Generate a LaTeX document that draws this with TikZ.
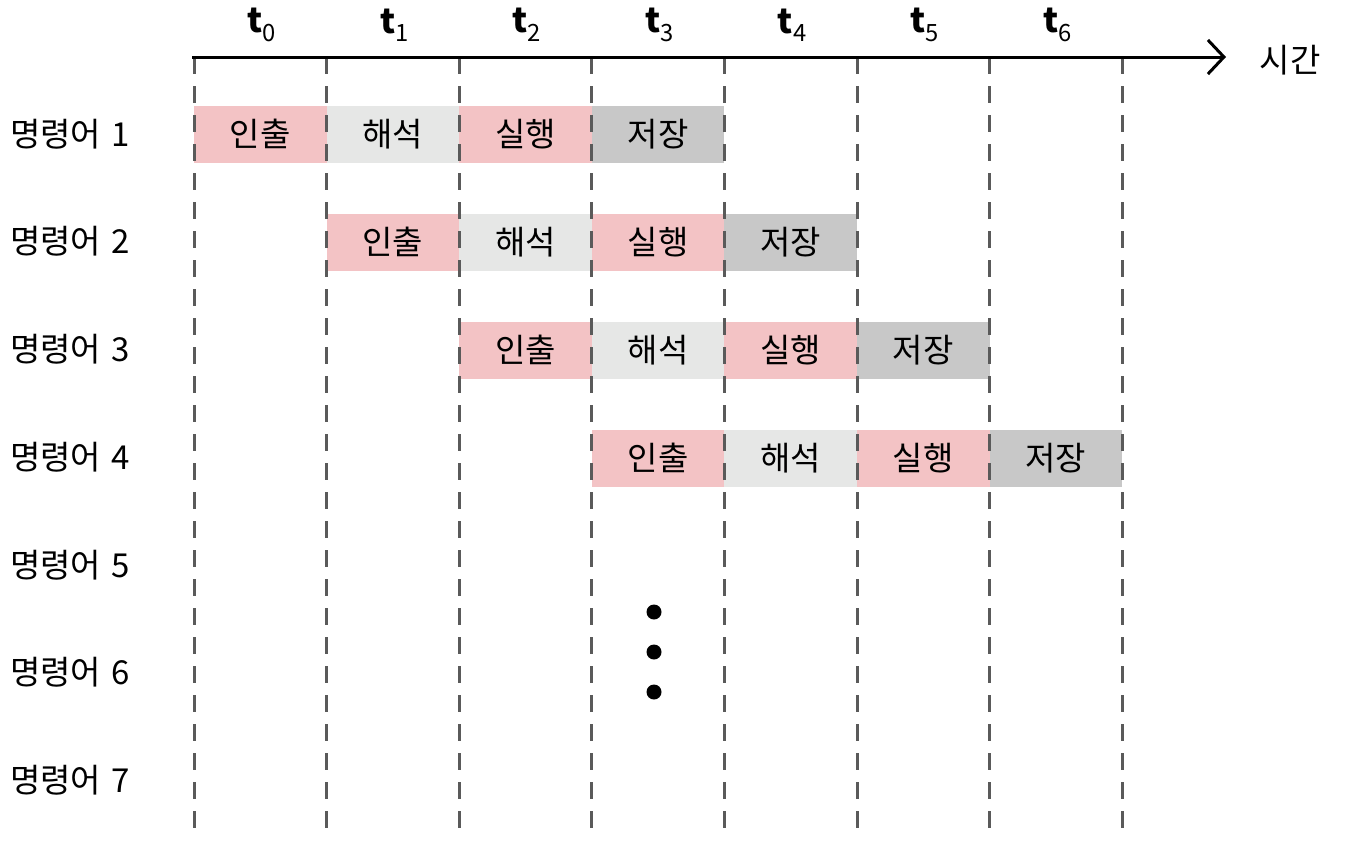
\documentclass[tikz,border=0pt]{standalone}
\usepackage{fontspec}
\setmainfont{Noto Sans CJK KR}
\usetikzlibrary{arrows.meta}
\definecolor{fetchc}{HTML}{F3C3C5}
\definecolor{decodec}{HTML}{E6E7E6}
\definecolor{storec}{HTML}{C8C8C8}
\definecolor{gridc}{HTML}{5A5A5A}
\tikzset{
  bar/.style={minimum width=132.6pt, minimum height=57pt, inner sep=0pt, font=\fontsize{33}{35}\selectfont},
  fetch/.style={bar, fill=fetchc},
  decode/.style={bar, fill=decodec},
  execbar/.style={bar, fill=fetchc},
  store/.style={bar, fill=storec},
  gridline/.style={gridc, line width=3pt, dash pattern=on 17pt off 12pt},
  rowlabel/.style={anchor=west, inner sep=0pt, font=\fontsize{33}{35}\selectfont},
  tlabel/.style={inner sep=0pt, font=\fontsize{34}{36}\selectfont\bfseries},
  axis/.style={line width=3pt, -{Straight Barb[length=16pt, width=34pt, line width=3pt]}},
}
\begin{document}
\begin{tikzpicture}[x=1pt,y=-1pt]
\useasboundingbox (0,0) rectangle (1345,844);
% bars
\foreach \r in {1,...,4}{
  \pgfmathsetmacro{\yc}{134+108*(\r-1)}
  \pgfmathsetmacro{\xa}{194+132.6*(\r-1)+66.3}
  \pgfmathsetmacro{\xb}{\xa+132.6}
  \pgfmathsetmacro{\xc}{\xb+132.6}
  \pgfmathsetmacro{\xd}{\xc+132.6}
  \node[fetch] (f\r) at (\xa,\yc) {인출};
  \node[decode] (d\r) at (\xb,\yc) {해석};
  \node[execbar] (e\r) at (\xc,\yc) {실행};
  \node[store] (s\r) at (\xd,\yc) {저장};
}
% grid lines
\foreach \i in {0,...,7}{
  \coordinate (top\i) at (194+132.6*\i,57);
  \coordinate (bot\i) at (194+132.6*\i,828);
  \draw[gridline] (top\i) -- (bot\i);
}
% axis
\coordinate (axstart) at (192,57);
\coordinate (axend) at (1226,57);
\draw[axis] (axstart) -- (axend);
\node[inner sep=0pt, font=\fontsize{33}{35}\selectfont] (time) at (1290,60) {시간};
% time labels
\node[tlabel] (t0) at (262,25) {t\textsubscript{\mdseries 0}};
\node[tlabel] (t1) at (394.6,25) {t\textsubscript{\mdseries 1}};
\node[tlabel] (t2) at (527.2,25) {t\textsubscript{\mdseries 2}};
\node[tlabel] (t3) at (659.8,25) {t\textsubscript{\mdseries 3}};
\node[tlabel] (t4) at (792.4,25) {t\textsubscript{\mdseries 4}};
\node[tlabel] (t5) at (925,25) {t\textsubscript{\mdseries 5}};
\node[tlabel] (t6) at (1057.6,25) {t\textsubscript{\mdseries 6}};
% row labels
\foreach \r in {1,...,7}{
  \node[rowlabel] (row\r) at (10,{134+107.7*(\r-1)}) {명령어\hspace{0.3em}\r};
}
% dots
\fill (654,612) circle (7.5pt) coordinate (dot1);
\fill (654,652) circle (7.5pt) coordinate (dot2);
\fill (654,692) circle (7.5pt) coordinate (dot3);
\end{tikzpicture}
\end{document}
